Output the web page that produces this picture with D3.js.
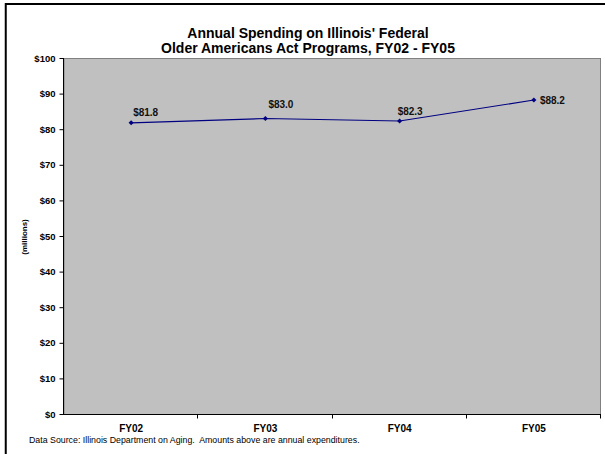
<!DOCTYPE html>
<html>
<head>
<meta charset="utf-8">
<script src="https://cdn.jsdelivr.net/npm/d3@7"></script>
<style>
  html, body { margin: 0; padding: 0; background: #fff; }
  svg { display: block; font-family: Arial, "Liberation Sans", Helvetica, sans-serif; }
  .footnote { white-space: pre; }
</style>
</head>
<body>
<svg id="chart" width="605" height="454"></svg>
<script>
// Annual spending, millions of dollars
const categories = ["FY02", "FY03", "FY04", "FY05"];
const spending = [81.8, 83.0, 82.3, 88.2];
const yTicks = [0, 10, 20, 30, 40, 50, 60, 70, 80, 90, 100];
const titleLines = ["Annual Spending on Illinois' Federal", "Older Americans Act Programs, FY02 - FY05"];
const yAxisLabel = "(millions)";
const footnote = "Data Source: Illinois Department on Aging.  Amounts above are annual expenditures.";

// label placement relative to each point: [dx, dy]
const labelOffsets = [[2, -7], [3, -10.5], [-2, -6], [6, 3.5]];

const svg = d3.select("#chart");
const plot = { left: 64, top: 58, right: 601, bottom: 414 };

// outer frame (only top and left edges fall inside the canvas)
svg.append("rect")
  .attr("x", 5.75).attr("y", 4)
  .attr("width", 700).attr("height", 600)
  .attr("fill", "none").attr("stroke", "#000").attr("stroke-width", 2);

const x = d3.scaleBand().domain(categories).range([plot.left, plot.right]).padding(0);
const y = d3.scaleLinear().domain([0, 100]).range([plot.bottom, plot.top]);

// plot area
svg.append("rect")
  .attr("x", plot.left).attr("y", plot.top + 0.5)
  .attr("width", plot.right - plot.left - 0.5).attr("height", plot.bottom - plot.top)
  .attr("fill", "#c0c0c0").attr("stroke", "#808080").attr("stroke-width", 1);

// y axis
const yAxis = svg.append("g")
  .attr("transform", `translate(${plot.left - 0.5},0)`)
  .call(d3.axisLeft(y).tickValues(yTicks).tickSize(4).tickPadding(4)
    .tickFormat(d => "$" + d));
yAxis.select(".domain").attr("stroke", "#000").attr("d", `M0,${plot.top}V${plot.bottom}`);
yAxis.selectAll(".tick line").attr("stroke", "#000");
yAxis.selectAll("text")
  .attr("fill", "#000").attr("font-size", "9.5px").attr("font-weight", "bold")
  .attr("font-family", "Arial, 'Liberation Sans', sans-serif");

// x axis with ticks between categories
const xAxis = svg.append("g")
  .attr("transform", `translate(0,${plot.bottom + 0.5})`);
xAxis.append("line")
  .attr("x1", plot.left - 1).attr("x2", plot.right)
  .attr("stroke", "#000");
const boundaries = categories.map(c => x(c)).concat([x(categories[categories.length - 1]) + x.bandwidth()]);
xAxis.selectAll(".xtick").data(boundaries.slice(1)).join("line")
  .attr("class", "xtick")
  .attr("x1", d => Math.round(d) - 0.5).attr("x2", d => Math.round(d) - 0.5)
  .attr("y1", 0).attr("y2", 4)
  .attr("stroke", "#000");
xAxis.selectAll(".xlabel").data(categories).join("text")
  .attr("class", "xlabel")
  .attr("x", d => x(d) + x.bandwidth() / 2)
  .attr("y", 17.5)
  .attr("text-anchor", "middle")
  .attr("font-size", "10px").attr("font-weight", "bold")
  .text(d => d);

// line series
const cx = d => x(d) + x.bandwidth() / 2;
const line = d3.line().x((d, i) => cx(categories[i])).y(d => y(d));
svg.append("path")
  .datum(spending)
  .attr("d", line)
  .attr("fill", "none").attr("stroke", "#000080").attr("stroke-width", 1.2);

// diamond markers (square turned 45 degrees)
const marker = d3.symbol().type(d3.symbolSquare).size(13);
svg.selectAll(".marker").data(spending).join("path")
  .attr("class", "marker")
  .attr("transform", (d, i) => `translate(${cx(categories[i])},${y(d)}) rotate(45)`)
  .attr("d", marker)
  .attr("fill", "#000080");

// value labels
svg.selectAll(".vlabel").data(spending).join("text")
  .attr("class", "vlabel")
  .attr("x", (d, i) => cx(categories[i]) + labelOffsets[i][0])
  .attr("y", (d, i) => y(d) + labelOffsets[i][1])
  .attr("font-size", "10px").attr("font-weight", "bold").attr("fill", "#111")
  .text(d => "$" + d.toFixed(1));

// title
svg.append("text")
  .attr("text-anchor", "middle")
  .attr("font-size", "14px").attr("font-weight", "bold")
  .selectAll("tspan").data(titleLines).join("tspan")
  .attr("x", 308)
  .attr("y", (d, i) => 37.5 + i * 15)
  .text(d => d);

// y axis title
svg.append("text")
  .attr("transform", "translate(27,237) rotate(-90)")
  .attr("text-anchor", "middle")
  .attr("font-size", "8px").attr("font-weight", "bold")
  .text(yAxisLabel);

// footnote
svg.append("text")
  .attr("class", "footnote")
  .attr("x", 29).attr("y", 443)
  .attr("font-size", "8.8px")
  .text(footnote);
</script>
</body>
</html>
